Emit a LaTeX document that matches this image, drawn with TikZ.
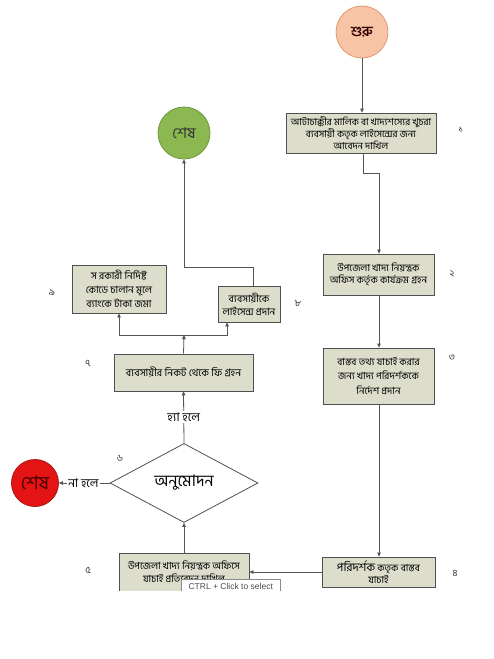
\documentclass[tikz,border=0pt]{standalone}
\usepackage{fontspec}
\newfontfamily\bn[Script=Bengali]{Hind Siliguri}
\setsansfont{Liberation Sans}
\usetikzlibrary{shapes.geometric,arrows.meta}
\definecolor{boxfill}{RGB}{221,221,204}
\definecolor{boxline}{RGB}{80,80,80}
\definecolor{conn}{RGB}{85,85,85}
\definecolor{startfill}{RGB}{248,196,166}
\definecolor{startline}{RGB}{225,150,110}
\definecolor{greenfill}{RGB}{140,184,82}
\definecolor{greenline}{RGB}{110,150,60}
\definecolor{redfill}{RGB}{228,20,20}
\definecolor{redline}{RGB}{170,20,20}
\tikzset{
  stepbox/.style={draw=boxline,fill=boxfill,line width=0.8pt,align=center,inner sep=1pt,font=\bn\fontsize{9.8}{12.5}\selectfont},
  conn/.style={draw=conn,line width=0.8pt},
  arr/.style={conn,-{Triangle[length=4pt,width=3.6pt]}},
  numlbl/.style={font=\bn\fontsize{9.5}{10}\selectfont,text=black!80},
  endcircle/.style={circle,line width=0.8pt,inner sep=0pt},
  cond/.style={font=\bn\fontsize{12}{13}\selectfont,inner sep=1pt}
}
\begin{document}
\begin{tikzpicture}[x=1pt,y=-1pt]
\useasboundingbox[fill=white] (0,0) rectangle (493,659);
% start
\node[endcircle,draw=startline,fill=startfill,minimum size=52pt,text=black!80!red,font=\bn\fontsize{14}{15}\selectfont] (start) at (362,32) {\bfseries শুরু};
% boxes right column
\node[stepbox,minimum width=150pt,minimum height=40pt,font=\bn\fontsize{9.6}{12}\selectfont] (b1) at (361,133) {আটাচাক্কীর মালিক বা খাদ্যশস্যের খুচরা\\ব্যবসায়ী কতৃক লাইসেন্সের জন্য\\আবেদন দাখিল};
\node[stepbox,minimum width=111pt,minimum height=41pt] (b2) at (378.5,274.5) {উপজেলা খাদ্য নিয়ন্ত্রক\\অফিস কর্তৃক কার্যক্রম গ্রহন};
\node[stepbox,minimum width=111pt,minimum height=56pt,font=\bn\fontsize{9.8}{14.5}\selectfont] (b3) at (378.5,376) {বাস্তব তথ্য যাচাই করার\\জন্য খাদ্য পরিদর্শককে\\নির্দেশ প্রদান};
% clipped bottom boxes
\begin{scope}
\clip (0,0) rectangle (493,590);
\node[stepbox,minimum width=113pt,minimum height=30pt,font=\bn\fontsize{9.8}{12}\selectfont] (b4) at (378.5,572) {{\fontsize{11.5}{12}\selectfont পরিদর্শক} কতৃক বাস্তব\\যাচাই};
\node[stepbox,minimum width=130pt,minimum height=38pt] (b5) at (184,572) {উপজেলা খাদ্য নিয়ন্ত্রক অফিসে\\যাচাই প্রতিবেদন দাখিল};
\node[draw=black!45,fill=white,line width=0.5pt,minimum width=99pt,minimum height=14pt,anchor=north west,inner sep=1pt,font=\sffamily\fontsize{8.5}{9}\selectfont,text=black!70] (tip) at (181,579) {CTRL + Click to select};
\end{scope}
% diamond
\node[diamond,draw=boxline,fill=white,line width=0.8pt,minimum width=148pt,minimum height=79pt,aspect=1.87,inner sep=0pt,font=\bn\fontsize{16}{17}\selectfont] (d6) at (184,483) {অনুমোদন};
\node[endcircle,draw=redline,fill=redfill,minimum size=47pt,text=black!70!red,font=\bn\fontsize{18.5}{19}\selectfont] (endr) at (35,483) {শেষ};
\node[cond] (no) at (83.5,483) {না হলে};
% left column
\node[stepbox,minimum width=139pt,minimum height=37pt,font=\bn\fontsize{10.3}{12}\selectfont] (b7) at (183.5,372.5) {ব্যবসায়ীর নিকট থেকে ফি গ্রহন};
\node[stepbox,minimum width=94pt,minimum height=48pt,font=\bn\fontsize{10}{14}\selectfont] (b9) at (119,289) {স রকারী নির্দিষ্ট\\কোডে চালান মূলে\\ব্যাংকে টাকা জমা};
\node[stepbox,minimum width=62pt,minimum height=36pt,font=\bn\fontsize{10}{13}\selectfont] (b8) at (249,304) {ব্যবসায়ীকে\\লাইসেন্স প্রদান};
\node[endcircle,draw=greenline,fill=greenfill,minimum size=52pt,text=black!80,font=\bn\fontsize{15}{16}\selectfont] (endg) at (184,133) {শেষ};
% numbers
\node[numlbl] (n1) at (461,130) {১};
\node[numlbl] (n2) at (452,274) {২};
\node[numlbl] (n3) at (452,358) {৩};
\node[numlbl] (n4) at (455,573) {৪};
\node[numlbl] (n5) at (88,570) {৫};
\node[numlbl] (n6) at (120,458) {৬};
\node[numlbl] (n7) at (88,363) {৭};
\node[numlbl] (n8) at (298,303) {৮};
\node[numlbl] (n9) at (52,292) {৯};
% coordinates
\coordinate (j1) at (184,335);
\coordinate (e1) at (363,173);
\coordinate (e2) at (379,173);
\coordinate (g1) at (253,267);
% connectors
\draw[arr] (start.south) -- (start.south |- b1.north);
\draw[arr] (b1.south -| e1) -- (e1) -- (e2) -- (e2 |- b2.north);
\draw[arr] (b2.south -| e2) -- (e2 |- b3.north);
\draw[arr] (b3.south -| e2) -- (e2 |- b4.north);
\draw[arr] (b4.west) -- (b4.west -| b5.east);
\draw[arr] (b5.north) -- (d6.south);
\draw[conn] (d6.west) -- (no.east);
\draw[arr] (no.west) -- (endr.east);
\draw[arr] (d6.north) -- node[fill=white,cond,inner sep=1.5pt]{হ্যা হলে} (b7.south);
\draw[arr] (b7.north) -- (j1);
\draw[arr] (j1) -- (j1 -| b9.south) -- (b9.south);
\draw[arr] (j1) -- (227,335) -- (b8.south -| 227,0);
\draw[arr] (b8.north -| g1) -- (g1) -- (g1 -| endg.south) -- (endg.south);
\end{tikzpicture}
\end{document}
